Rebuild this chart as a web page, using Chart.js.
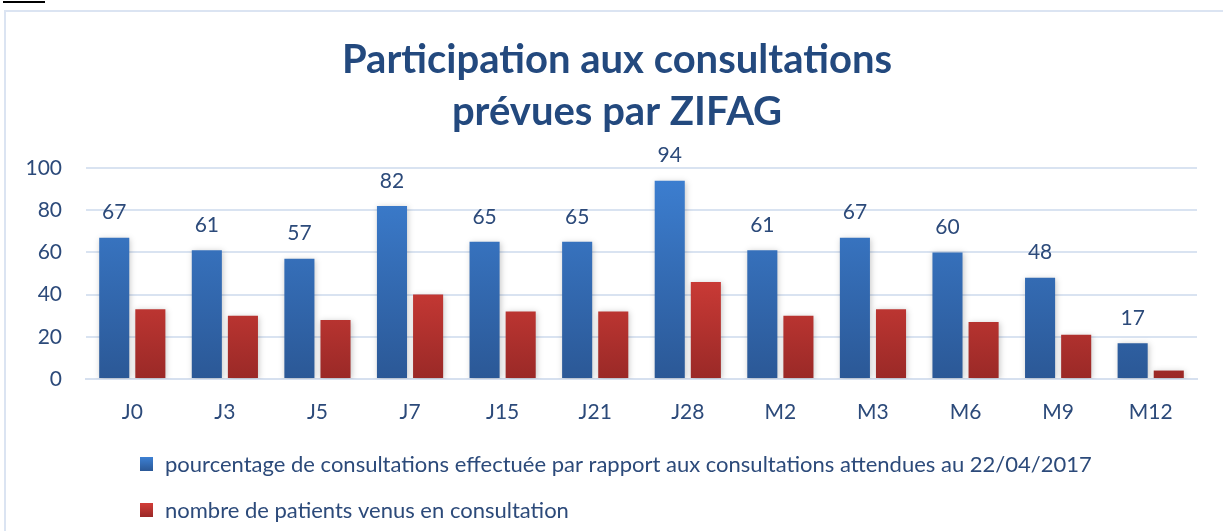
<!DOCTYPE html>
<html><head><meta charset="utf-8">
<script src="https://cdn.jsdelivr.net/npm/chart.js@4.4.1/dist/chart.umd.min.js"></script>
<style>
html,body{margin:0;padding:0;background:#fff;overflow:hidden;}
#wrap{position:relative;width:1223px;height:531px;}
#frame{position:absolute;left:4px;top:10px;width:1300px;height:600px;border:2px solid #dbe4f2;box-sizing:border-box;}
#ul{position:absolute;left:3px;top:1px;width:42px;height:2px;background:#000;}
canvas{position:absolute;left:0;top:0;}
</style></head>
<body><div id="wrap"><div id="ul"></div><div id="frame"></div><canvas id="c" width="1223" height="531"></canvas></div>
<script>
const categories = ["J0","J3","J5","J7","J15","J21","J28","M2","M3","M6","M9","M12"];
const pourcentage = [67,61,57,82,65,65,94,61,67,60,48,17];
const patients = [33,30,28,40,32,32,46,30,33,27,21,4];
const yTicks = [0,20,40,60,80,100];
const seriesLabels = ["pourcentage de consultations effectuée par rapport aux consultations attendues au 22/04/2017","nombre de patients venus en consultation"];
const titleLines = ["Participation aux consultations","prévues par ZIFAG"];

const TXT = '#2c4a7a';
const FONT = 'Lato';
function grad(ctx, area, top, bot){
  const g = ctx.createLinearGradient(0, area.top, 0, area.bottom);
  g.addColorStop(0, top); g.addColorStop(1, bot); return g;
}
const blueFill = (c)=>{const a=c.chart.chartArea; if(!a) return '#3a78c9'; return grad(c.chart.ctx,a,'#3d80d3','#2b5896');};
const redFill = (c)=>{const a=c.chart.chartArea; if(!a) return '#c83a36'; return grad(c.chart.ctx,{top:a.top+(a.bottom-a.top)*0.45,bottom:a.bottom},'#d23d38','#9a2927');};

const titlePlugin = {
  id:'myTitle',
  afterDraw(chart){
    const ctx=chart.ctx; ctx.save();
    ctx.fillStyle='#23497e'; ctx.font='bold 40px '+FONT; ctx.textAlign='center'; ctx.textBaseline='middle';
    titleLines.forEach((t,i)=>ctx.fillText(t, 617, 60+i*52));
    ctx.restore();
  }
};
const shadowPlugin = {
  id:'shadow',
  beforeDatasetsDraw(chart){const ctx=chart.ctx;ctx.save();ctx.shadowColor='rgba(0,0,0,0.22)';ctx.shadowBlur=6;ctx.shadowOffsetX=1;ctx.shadowOffsetY=1;},
  afterDatasetsDraw(chart){chart.ctx.restore();}
};
const labelPlugin = {
  id:'vals',
  afterDatasetsDraw(chart){
    const ctx=chart.ctx; const meta=chart.getDatasetMeta(0);
    ctx.save(); ctx.fillStyle=TXT; ctx.font='21px '+FONT; ctx.textAlign='center'; ctx.textBaseline='middle';
    meta.data.forEach((b,i)=>{ctx.fillText(String(pourcentage[i]), b.x, b.y-25);});
    ctx.restore();
  }
};
const legendPlugin = {
  id:'myLegend',
  afterDraw(chart){
    const ctx=chart.ctx; const base=chart.chartArea.bottom;
    const rows=[base+85, base+131];
    const cols=[['#3d80d3','#2b5896'],['#d23d38','#9a2927']];
    ctx.save();
    seriesLabels.forEach((t,i)=>{
      const y=rows[i];
      const g=ctx.createLinearGradient(0,y-7,0,y+7); g.addColorStop(0,cols[i][0]); g.addColorStop(1,cols[i][1]);
      ctx.fillStyle=g; ctx.fillRect(140,y-7,13,14);
      ctx.fillStyle=TXT; ctx.font='22px '+FONT; ctx.textAlign='left'; ctx.textBaseline='middle';
      ctx.fillText(t,165,y+1);
    });
    ctx.restore();
  }
};

new Chart(document.getElementById('c'), {
  type:'bar',
  data:{labels:categories, datasets:[
    {label:seriesLabels[0], data:pourcentage, backgroundColor:blueFill, barPercentage:0.833, categoryPercentage:0.78},
    {label:seriesLabels[1], data:patients, backgroundColor:redFill, barPercentage:0.833, categoryPercentage:0.78}
  ]},
  options:{
    responsive:false, animation:false,
    layout:{padding:{left:0,right:26,top:168,bottom:102}},
    plugins:{ legend:{display:false}, tooltip:{enabled:false}, title:{display:false} },
    scales:{
      x:{grid:{display:false,drawTicks:false}, border:{display:true,color:'#d6e0ef',width:2},
         ticks:{color:TXT,font:{family:FONT,size:21},padding:21}, afterFit(s){s.height=50;}},
      y:{min:0,max:100, afterBuildTicks(s){s.ticks=yTicks.map(v=>({value:v}));},
         grid:{color:'#d9e3f1',lineWidth:2,drawTicks:false}, border:{display:false},
         ticks:{color:TXT,font:{family:FONT,size:21},padding:24}, afterFit(s){s.width=86;}}
    }
  },
  plugins:[shadowPlugin,labelPlugin,legendPlugin,titlePlugin]
});
</script></body></html>
